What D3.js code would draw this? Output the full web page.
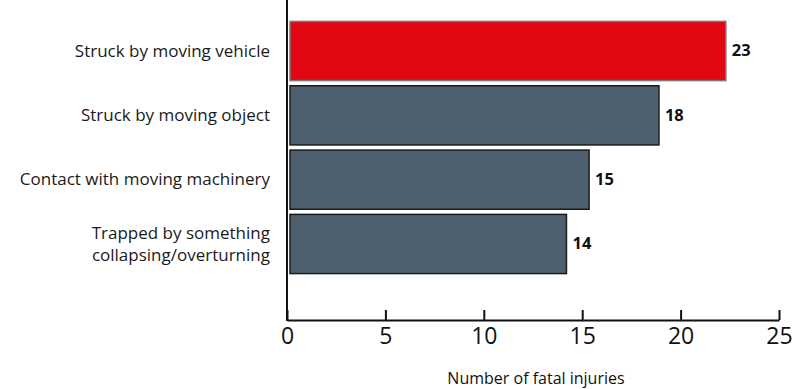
<!DOCTYPE html>
<html><head><meta charset="utf-8">
<script src="https://cdn.jsdelivr.net/npm/d3@7"></script>
<style>body{margin:0;background:#fff}svg{display:block}</style>
</head><body>
<svg id="c" width="798" height="389"></svg>
<script>
const categories = [["Struck by moving vehicle"],["Struck by moving object"],["Contact with moving machinery"],["Trapped by something","collapsing/overturning"]];
const values = [22.3, 18.9, 15.35, 14.2];
const valueLabels = ["23","18","15","14"];
const colors = ["#E30613","#4E6070","#4E6070","#4E6070"];
const strokes = ["#7a7a7a","#1a1a1a","#1a1a1a","#1a1a1a"];
const xTicks = [0,5,10,15,20,25];

const svg = d3.select("#c");
const font = "'Open Sans', sans-serif";
const x = d3.scaleLinear().domain([0,25]).range([287,779]);
const y = d3.scaleBand().domain(d3.range(categories.length)).range([19,275]).paddingInner(0.08).paddingOuter(0.03);

svg.selectAll("rect.bar").data(values).join("rect")
  .attr("x", x(0)+3).attr("y",(d,i)=>y(i)+0.5)
  .attr("width", d=>x(d)-x(0)-3).attr("height", y.bandwidth())
  .attr("fill",(d,i)=>colors[i]).attr("stroke",(d,i)=>strokes[i]).attr("stroke-width",1.5);

svg.selectAll("text.val").data(values).join("text")
  .attr("x", d=>x(d)+6).attr("y",(d,i)=>y(i)+y.bandwidth()/2)
  .attr("dy","0.36em").attr("font-family",font).attr("font-weight","bold").attr("font-size",16.5)
  .attr("fill","#111").text((d,i)=>valueLabels[i]);

const cat = svg.selectAll("text.cat").data(categories).join("text")
  .attr("text-anchor","end").attr("font-family",font).attr("font-size",17).attr("fill","#1a1a1a");
cat.each(function(lines,i){
  const t = d3.select(this);
  const cy = y(i)+y.bandwidth()/2;
  const lh = 22;
  lines.forEach((l,j)=>{
    t.append("tspan").attr("x",270).attr("y", cy + (j-(lines.length-1)/2)*lh).attr("dy","0.36em").text(l);
  });
});

// y axis line
svg.append("line").attr("x1",x(0)).attr("x2",x(0)).attr("y1",0).attr("y2",321).attr("stroke","#111").attr("stroke-width",2);

const xAxis = svg.append("g").attr("transform","translate(0,320)")
  .call(d3.axisBottom(x).tickValues(xTicks).tickSize(-10).tickPadding(8).tickSizeOuter(0));
xAxis.select(".domain").attr("stroke","#111").attr("stroke-width",2);
xAxis.selectAll(".tick line").attr("stroke","#111").attr("stroke-width",2);
xAxis.selectAll(".tick text").attr("font-family",font).attr("font-size",23).attr("fill","#111");

svg.append("text").attr("x",536).attr("y",384).attr("text-anchor","middle")
  .attr("font-family",font).attr("font-size",16).attr("fill","#111").text("Number of fatal injuries");
</script>
</body></html>
